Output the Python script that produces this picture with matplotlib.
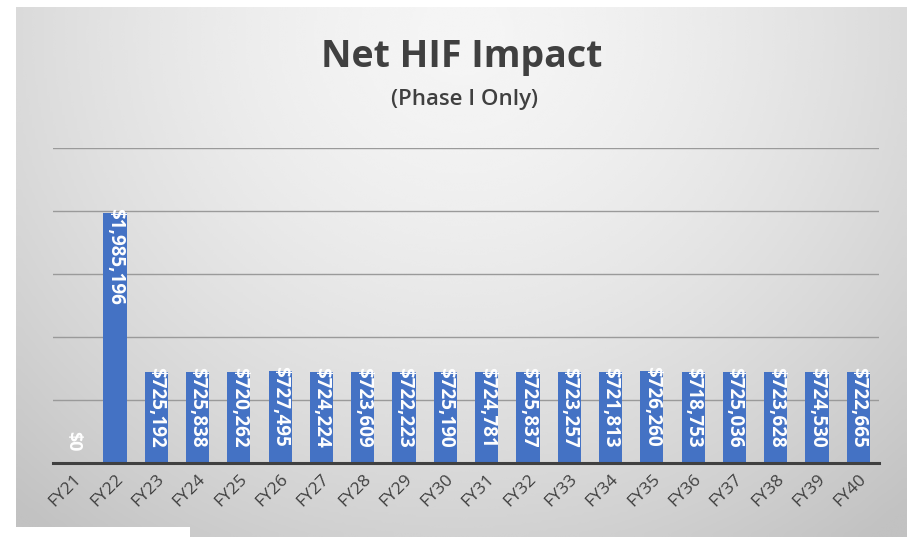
import matplotlib.pyplot as plt
import numpy as np

years = ["FY%d" % y for y in range(21, 41)]
impact = [0, 1985196, 725192, 725838, 720262, 727495, 724224, 723609,
          722223, 725190, 724781, 725837, 723257, 721813, 726260, 718753,
          725036, 723628, 724530, 722665]

W, H = 907, 537
fig = plt.figure(figsize=(W / 100, H / 100), dpi=100)
fig.patch.set_facecolor("white")

# gradient chart background (lighter towards the top centre)
bg = fig.add_axes([16 / W, 0, 1 - 16 / W, 1 - 7 / H])
yy, xx = np.mgrid[0:1:200j, 0:1:300j]
r = np.sqrt(((xx - 0.5) / 0.75) ** 2 + ((yy - 0.05) / 1.2) ** 2)
grad = 0.96 - 0.2 * np.clip(r, 0, 1) ** 1.6
bg.imshow(grad, cmap="gray", vmin=0, vmax=1, aspect="auto",
          extent=[0, 1, 1, 0], interpolation="bicubic")
bg.set_axis_off()

# white patch at the bottom left (cropped screenshot)
fig.patches.append(plt.Rectangle((0, 0), 190 / W, 10 / H, transform=fig.transFigure,
                                 facecolor="white", edgecolor="none", zorder=5))

left, right, bottom, top = 53, 879, 463, 148
ax = fig.add_axes([left / W, 1 - bottom / H, (right - left) / W, (bottom - top) / H])
ax.patch.set_alpha(0)

x = np.arange(len(years))
ax.bar(x, impact, width=0.56, color="#4472c4", zorder=3)
ax.set_xlim(-0.5, len(years) - 0.5)
ax.set_ylim(0, 2500000)
ax.set_yticks(np.arange(500000, 2500001, 500000))
ax.yaxis.grid(True, color="#9a9a9a", linewidth=1)
ax.tick_params(axis="y", left=False, labelleft=False)
ax.tick_params(axis="x", length=0, pad=6)
for s in ["top", "right", "left"]:
    ax.spines[s].set_visible(False)
ax.spines["bottom"].set_color("#404040")
ax.spines["bottom"].set_linewidth(2.2)
ax.spines["bottom"].set_zorder(4)

ax.set_xticks(x)
ax.set_xticklabels(years)
plt.setp(ax.get_xticklabels(), rotation=45, ha="right", va="top",
         rotation_mode="anchor", fontsize=12.5, color="#404040",
         family="Open Sans")

for xi, v in zip(x, impact):
    lab = "${:,.0f}".format(v)
    if v == 0:
        ax.text(xi, 90000, lab, rotation=270, ha="center", va="bottom",
                color="white", fontsize=13, fontweight="bold",
                family="Open Sans", zorder=4)
    else:
        ax.text(xi, v + 40000, lab, rotation=270, ha="center", va="top",
                color="white", fontsize=13.5, fontweight="bold",
                family="Open Sans", zorder=4)

fig.text(462 / W, 1 - 57 / H, "Net HIF Impact", ha="center", va="center",
         fontsize=27, fontweight="bold", color="#404040", family="Open Sans")
fig.text(465 / W, 1 - 99 / H, "(Phase I Only)", ha="center", va="center",
         fontsize=16, fontweight="semibold", color="#404040", family="Open Sans")

fig.savefig("out.png", dpi=100)
